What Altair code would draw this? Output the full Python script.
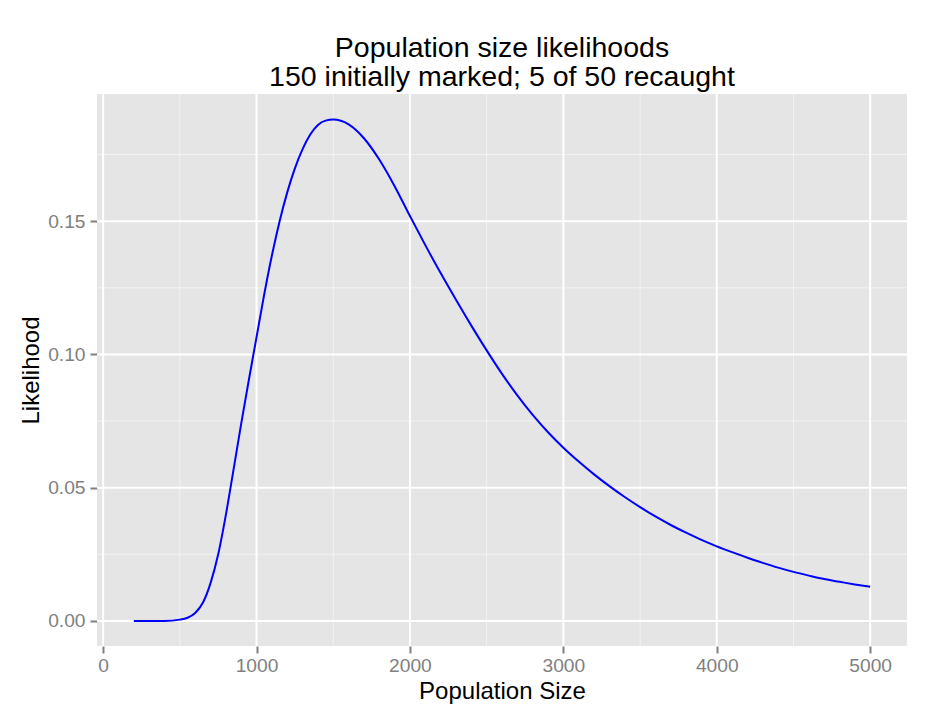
import altair as alt
import pandas as pd

# ---- data ----
population = [200, 300, 400, 500, 550, 600, 650, 700, 750, 800, 850, 900, 950,
              1000, 1050, 1100, 1150, 1200, 1250, 1300, 1350, 1400, 1450, 1500,
              1600, 1700, 1800, 1900,
              2000, 2100, 2200, 2300, 2400, 2500, 2600, 2700, 2800, 2900,
              3000, 3100, 3200, 3300, 3400, 3500, 3600, 3700, 3800, 3900,
              4000, 4100, 4200, 4300, 4400, 4500, 4600, 4700, 4800, 4900, 5000]
likelihood = [0.0, 0.0, 0.00002, 0.0005, 0.0012, 0.0030, 0.0068, 0.0142, 0.0250,
              0.0398, 0.0568, 0.0740, 0.0905,
              0.1065, 0.1225, 0.1371, 0.1499, 0.1608, 0.1698, 0.1770, 0.1825, 0.1861, 0.1877, 0.1881,
              0.1863, 0.1811, 0.1731, 0.1631,
              0.1519, 0.1410, 0.1305, 0.1205, 0.1108, 0.1015, 0.0927, 0.0846, 0.0773, 0.0708,
              0.0650, 0.0598, 0.0550, 0.0506, 0.0465, 0.0427, 0.0392, 0.0360, 0.0331, 0.0304,
              0.0280, 0.0258, 0.0237, 0.0218, 0.0200, 0.0184, 0.0170, 0.0157, 0.0147, 0.0137, 0.0128]

x_major = [0, 1000, 2000, 3000, 4000, 5000]
x_minor = [500, 1500, 2500, 3500, 4500]
y_major = [0.0, 0.05, 0.10, 0.15]
y_minor = [0.025, 0.075, 0.125, 0.175]

title_lines = ["Population size likelihoods", "150 initially marked; 5 of 50 recaught"]
x_title = "Population Size"
y_title = "Likelihood"

FONT = "Liberation Sans"
x_dom = [-40, 5240]
y_dom = [-0.0094, 0.1977]

df = pd.DataFrame({"N": population, "L": likelihood})
xs = alt.Scale(domain=x_dom, nice=False, zero=False)
ys = alt.Scale(domain=y_dom, nice=False, zero=False)

axis_common = dict(
    grid=False, domain=False,
    labelFont=FONT, labelFontSize=19.2, labelColor="#7F7F7F",
    tickColor="#7F7F7F", tickSize=7, tickWidth=2,
    titleFont=FONT, titleFontSize=24, titleColor="black", titleFontWeight="normal",
)
x_axis = alt.Axis(values=x_major, format="d", title=x_title,
                  labelPadding=3, titlePadding=4, **axis_common)
y_axis = alt.Axis(values=y_major, format=".2f", title=y_title,
                  labelPadding=5, titlePadding=4, **axis_common)

xminor = alt.Chart(pd.DataFrame({"v": x_minor})).mark_rule(color="#F2F2F2", strokeWidth=1).encode(
    x=alt.X("v:Q", scale=xs, axis=x_axis))
yminor = alt.Chart(pd.DataFrame({"v": y_minor})).mark_rule(color="#F2F2F2", strokeWidth=1).encode(
    y=alt.Y("v:Q", scale=ys, axis=y_axis))
xmajor = alt.Chart(pd.DataFrame({"v": x_major})).mark_rule(color="white", strokeWidth=2).encode(
    x=alt.X("v:Q", scale=xs, axis=x_axis))
ymajor = alt.Chart(pd.DataFrame({"v": y_major})).mark_rule(color="white", strokeWidth=2).encode(
    y=alt.Y("v:Q", scale=ys, axis=y_axis))

line = alt.Chart(df).mark_line(color="#0000FF", strokeWidth=2, interpolate="monotone").encode(
    x=alt.X("N:Q", scale=xs, axis=x_axis),
    y=alt.Y("L:Q", scale=ys, axis=y_axis),
)

chart = alt.layer(xminor, yminor, xmajor, ymajor, line).properties(
    width=810, height=552,
    autosize=alt.AutoSizeParams(type="none"),
    padding={"left": 89, "top": 86, "right": 20, "bottom": 60},
    title=alt.TitleParams(text=title_lines, font=FONT, fontSize=28.5, fontWeight="normal",
                          color="black", anchor="middle", lineHeight=29, offset=2),
).configure_view(fill="#E5E5E5", stroke=None)

chart.save("out.html", embed_options={"renderer": "svg", "actions": False})
